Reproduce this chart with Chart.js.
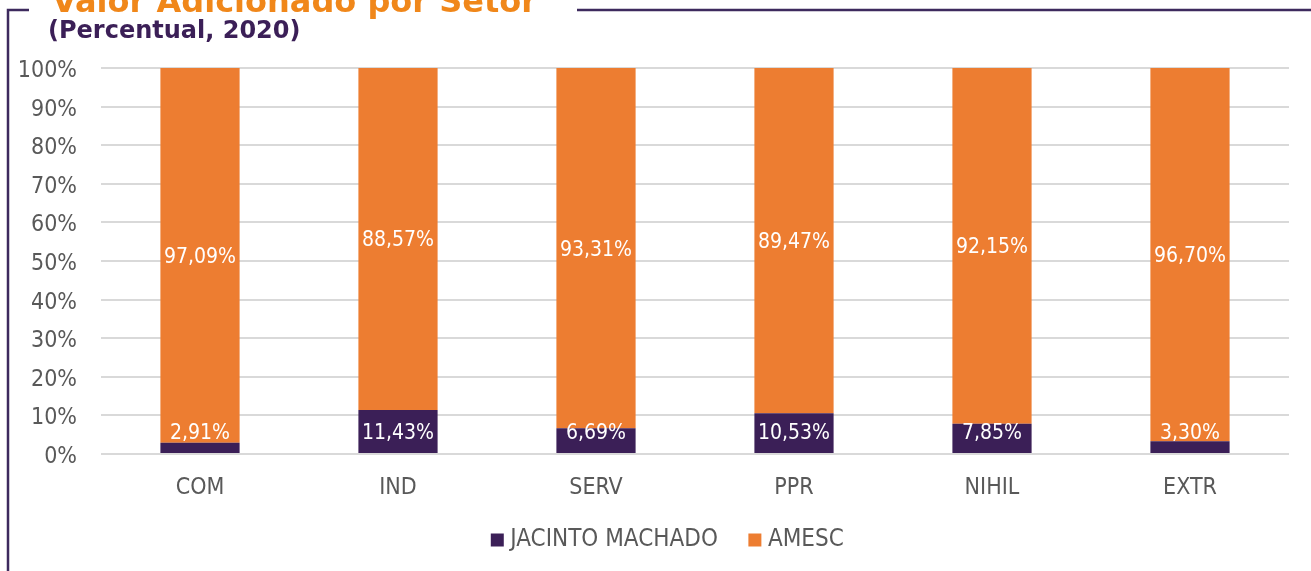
<!DOCTYPE html>
<html>
<head>
<meta charset="utf-8">
<script src="https://cdn.jsdelivr.net/npm/chart.js@4.4.1/dist/chart.umd.min.js"></script>
<style>
  body { margin: 0; background: #ffffff; }
  #wrap { position: relative; width: 1311px; height: 571px; }
</style>
</head>
<body>
<div id="wrap"><canvas id="setorChart"></canvas></div>
<script>
// dados do grafico (percentual, 2020)
const setores = ["COM", "IND", "SERV", "PPR", "NIHIL", "EXTR"];
const jacintoMachado = [2.91, 11.43, 6.69, 10.53, 7.85, 3.30];
const amesc = [97.09, 88.57, 93.31, 89.47, 92.15, 96.70];
const yTicks = [0, 10, 20, 30, 40, 50, 60, 70, 80, 90, 100];

const tituloGrafico = "Valor Adicionado por Setor";
const subtituloGrafico = "(Percentual, 2020)";

const FONTE = "'DejaVu Sans Condensed', 'DejaVu Sans', sans-serif";
const ROXO = "#3b1f57";
const LARANJA = "#ed7d31";
const CINZA = "#595959";

// formata no padrao brasileiro: 97,09%
function formatPct(v) {
    return v.toFixed(2).replace(".", ",") + "%";
}

// moldura e titulo (desenhados antes do grafico)
const molduraPlugin = {
    id: "moldura",
    afterLayout(chart) {
        // libera a area de recorte dos rotulos dos eixos
        chart.scales.y.left = 0;
        chart.scales.x.bottom = chart.height;
    },
    beforeDraw(chart) {
        const ctx = chart.ctx;
        ctx.save();
        ctx.strokeStyle = "#3d2a5e";
        ctx.lineWidth = 2.5;
        ctx.beginPath();
        ctx.moveTo(8, 571);
        ctx.lineTo(8, 10);
        ctx.lineTo(29, 10);
        ctx.moveTo(577, 10);
        ctx.lineTo(1311, 10);
        ctx.stroke();

        ctx.textAlign = "left";
        ctx.textBaseline = "alphabetic";
        ctx.fillStyle = "#f0871a";
        ctx.font = "bold 32px 'DejaVu Sans', sans-serif";
        ctx.fillText(tituloGrafico, 52, 12);

        ctx.fillStyle = ROXO;
        ctx.font = "bold 24px 'DejaVu Sans', sans-serif";
        ctx.fillText(subtituloGrafico, 48, 38);
        ctx.restore();
    }
};

// rotulos de dados no centro de cada segmento
const rotulosPlugin = {
    id: "rotulos",
    afterDatasetsDraw(chart) {
        const ctx = chart.ctx;
        const yScale = chart.scales.y;
        const zero = yScale.getPixelForValue(0);
        ctx.save();
        ctx.font = "21px " + FONTE;
        ctx.fillStyle = "#ffffff";
        ctx.textAlign = "center";
        ctx.textBaseline = "middle";
        chart.data.datasets.forEach((ds, di) => {
            const meta = chart.getDatasetMeta(di);
            meta.data.forEach((bar, i) => {
                let y = (bar.y + bar.base) / 2;
                if (di === 0) y = Math.min(y, zero - 22); // rotulo nao encosta no eixo
                ctx.fillText(formatPct(ds.data[i]), bar.x, y + 2);
            });
        });
        ctx.restore();
    }
};

const ctxSetor = document.getElementById("setorChart").getContext("2d");

new Chart(ctxSetor, {
    type: "bar",
    data: {
        labels: setores,
        datasets: [
            {
                label: "JACINTO MACHADO",
                data: jacintoMachado,
                backgroundColor: ROXO,
                barPercentage: 0.4,
                categoryPercentage: 1.0,
            },
            {
                label: "AMESC",
                data: amesc,
                backgroundColor: LARANJA,
                barPercentage: 0.4,
                categoryPercentage: 1.0,
            },
        ],
    },
    options: {
        responsive: true,
        maintainAspectRatio: false,
        animation: false,
        layout: { padding: { top: 68, right: 22, left: 51, bottom: 9 } },
        plugins: {
            legend: {
                position: "bottom",
                labels: {
                    usePointStyle: true,
                    pointStyle: "rect",
                    boxWidth: 2,
                    boxHeight: 13,
                    padding: 36,
                    color: CINZA,
                    font: { family: FONTE, size: 24 },
                },
            },
            tooltip: { enabled: false },
        },
        scales: {
            x: {
                stacked: true,
                afterFit(scale) { scale.height = 38; },
                grid: { display: false, drawTicks: false },
                border: { display: false },
                ticks: { color: CINZA, padding: 20, font: { family: FONTE, size: 23 } },
            },
            y: {
                stacked: true,
                min: 0,
                max: 100,
                afterFit(scale) { scale.width = 50; },
                afterBuildTicks(scale) { scale.ticks = yTicks.map(v => ({ value: v })); },
                grid: { color: "#d9d9d9", lineWidth: 2, drawTicks: false },
                border: { display: false },
                ticks: {
                    color: CINZA,
                    padding: 24,
                    labelOffset: 3,
                    font: { family: FONTE, size: 23 },
                    callback: v => v + "%",
                },
            },
        },
    },
    plugins: [molduraPlugin, rotulosPlugin],
});
</script>
</body>
</html>
